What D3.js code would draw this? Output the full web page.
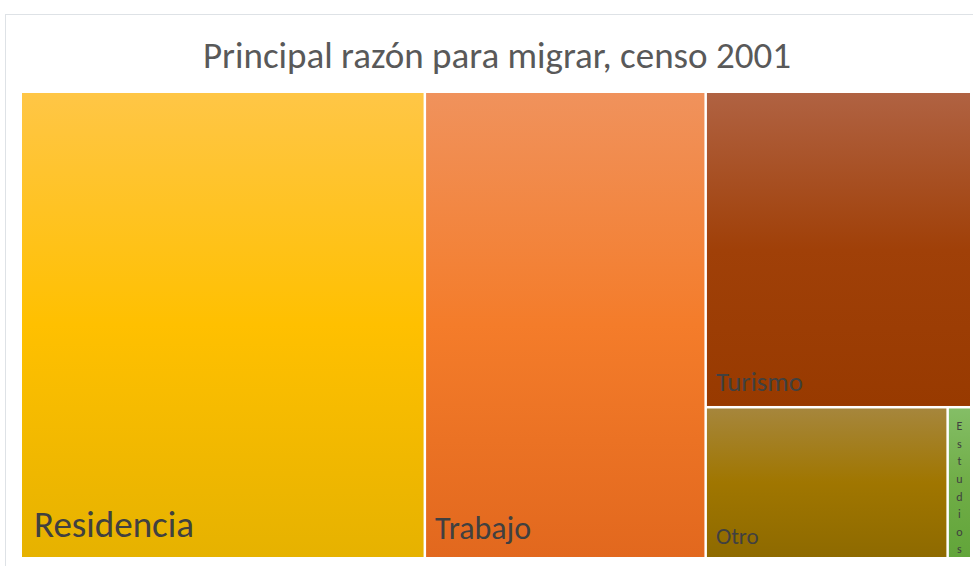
<!DOCTYPE html>
<html lang="es">
<head>
<meta charset="UTF-8">
<title>Principal razón para migrar, censo 2001</title>
<style>
  body { margin: 0; background: #fff; }
  text { font-family: Carlito, Calibri, "Open Sans", sans-serif; }
</style>
</head>
<body>
<svg id="chart" width="973" height="566"></svg>
<script src="https://cdn.jsdelivr.net/npm/d3@7"></script>
<script>
// data (share of migrants, %)
var categories = ["Residencia", "Trabajo", "Turismo", "Otro", "Estudios"];
var values = [42.3, 29.4, 18.8, 8.2, 0.8];
// gradient colours per category: top, middle, bottom
var colTop = ["#FFC646", "#F0925C", "#B06242", "#A6863C", "#84BE66"];
var colMid = ["#FFC000", "#F47C2A", "#A04008", "#A07600", "#70AD47"];
var colBot = ["#E6B200", "#E2681E", "#983A00", "#8E6A00", "#62A53A"];

var plot = {left: 22, top: 93, width: 948, height: 464};

var svg = d3.select("#chart");

// chart frame
svg.append("rect")
   .attr("x", 5.5).attr("y", 14.5)
   .attr("width", 1000).attr("height", 600)
   .attr("fill", "#fff")
   .attr("stroke", "#DEE2E6");

svg.append("text")
   .attr("x", 497).attr("y", 68)
   .attr("text-anchor", "middle")
   .attr("font-size", 37)
   .attr("fill", "#595959")
   .text("Principal razón para migrar, censo 2001");

var rows = categories.map(function (c, i) { return {name: c, value: values[i], idx: i}; });
var root = d3.hierarchy({children: rows}).sum(function (d) { return d.value || 0; })
             .sort(function (a, b) { return b.value - a.value; });

d3.treemap()
  .tile(d3.treemapSquarify.ratio(1))
  .size([plot.width, plot.height])
  .paddingInner(2.5)(root);

var defs = svg.append("defs");
rows.forEach(function (d, i) {
  var g = defs.append("linearGradient")
              .attr("id", "grad" + i)
              .attr("x1", 0).attr("y1", 0).attr("x2", 0).attr("y2", 1);
  g.append("stop").attr("offset", "0%").attr("stop-color", colTop[i]);
  g.append("stop").attr("offset", "50%").attr("stop-color", colMid[i]);
  g.append("stop").attr("offset", "100%").attr("stop-color", colBot[i]);
});

var fontScale = d3.scalePow().exponent(0.4).domain([0, d3.max(values)]).range([0, 37]);

var cells = svg.append("g")
   .attr("transform", "translate(" + plot.left + "," + plot.top + ")")
   .selectAll("g")
   .data(root.leaves())
   .enter().append("g")
   .attr("transform", function (d) { return "translate(" + d.x0 + "," + d.y0 + ")"; });

cells.append("rect")
   .attr("width", function (d) { return d.x1 - d.x0; })
   .attr("height", function (d) { return d.y1 - d.y0; })
   .attr("fill", function (d) { return "url(#grad" + d.data.idx + ")"; });

cells.each(function (d) {
  var g = d3.select(this);
  var w = d.x1 - d.x0, h = d.y1 - d.y0;
  if (w < 40) {
    // narrow cell: one letter per line
    var letters = d.data.name.split("");
    var step = 17.6;
    var y0 = h / 2 - (letters.length - 1) * step / 2 + 9;
    g.selectAll("text").data(letters).enter().append("text")
     .attr("x", w / 2).attr("y", function (l, i) { return y0 + i * step; })
     .attr("text-anchor", "middle")
     .attr("font-size", 12)
     .attr("fill", "#404040")
     .text(function (l) { return l; });
  } else {
    var fs = Math.max(23, fontScale(d.value));
    g.append("text")
     .attr("x", d.x0 < 1 ? 12 : 9).attr("y", h - fs * 0.55)
     .attr("font-size", fs)
     .attr("fill", "#404040")
     .text(d.data.name);
  }
});
</script>
</body>
</html>
